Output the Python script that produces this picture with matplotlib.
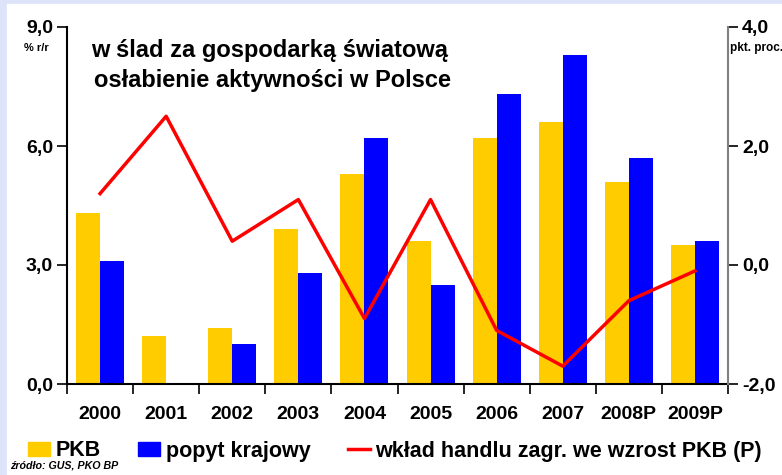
import matplotlib.pyplot as plt
import numpy as np
from matplotlib.patches import Patch, Rectangle
from matplotlib.lines import Line2D

plt.rcParams['font.family'] = ['Liberation Sans', 'DejaVu Sans']

years = ["2000", "2001", "2002", "2003", "2004", "2005", "2006", "2007", "2008P", "2009P"]
pkb = [4.3, 1.2, 1.4, 3.9, 5.3, 3.6, 6.2, 6.6, 5.1, 3.5]
popyt = [3.1, np.nan, 1.0, 2.8, 6.2, 2.5, 7.3, 8.3, 5.7, 3.6]
handel = [1.2, 2.5, 0.4, 1.1, -0.9, 1.1, -1.1, -1.7, -0.6, -0.1]

yellow = "#ffcc00"
blue = "#0000ff"
red = "#ff0000"

fig = plt.figure(figsize=(7.82, 4.75), dpi=100)
fig.patches.append(Rectangle((0, 0), 1, 1, transform=fig.transFigure,
                             color="#dde3f8", zorder=-10))
fig.patches.append(Rectangle((7 / 782, 0), 1, 1 - 4 / 475, transform=fig.transFigure,
                             color="white", zorder=-9))

ax = fig.add_axes([67 / 782, 1 - 384 / 475, (728 - 67) / 782, (384 - 27) / 475])
ax.set_facecolor("none")
x = np.arange(len(years))
w = 0.363
ax.bar(x - w / 2, pkb, w, color=yellow, zorder=2)
ax.bar(x + w / 2, popyt, w, color=blue, zorder=2)
ax.set_xlim(-0.5, len(years) - 0.5)
ax.set_ylim(0, 9)
ax.set_yticks([0, 3, 6, 9])
ax.set_yticklabels(["0,0", "3,0", "6,0", "9,0"], fontsize=14, fontweight="bold")
ax.set_xticks(np.arange(-0.5, len(years), 1.0))
ax.set_xticklabels([])
ax.set_xticks(x, minor=True)
ax.set_xticklabels(years, minor=True, fontsize=14, fontweight="bold")
ax.tick_params(axis="x", which="minor", length=0, pad=16)
ax.tick_params(axis="x", which="major", length=7, width=1.2, direction="out")
ax.tick_params(axis="y", length=7, width=1.2, pad=3)
ax.spines["top"].set_visible(False)
ax.spines["left"].set_linewidth(1.5)
ax.spines["bottom"].set_linewidth(1.5)
ax.spines["right"].set_visible(False)

ax2 = ax.twinx()
ax2.plot(x, handel, color=red, lw=2.5, zorder=3)
ax2.set_ylim(-2, 4)
ax2.set_yticks([-2, 0, 2, 4])
ax2.set_yticklabels(["-2,0", "0,0", "2,0", "4,0"], fontsize=14, fontweight="bold")
ax2.tick_params(axis="y", length=7, width=1.2, pad=3)
for s in ["top", "left", "bottom"]:
    ax2.spines[s].set_visible(False)
ax2.spines["right"].set_color("#808080")
ax2.spines["right"].set_linewidth(1.5)

fig.text(36 / 782, 1 - 48 / 475, "% r/r", fontsize=8, fontweight="bold",
         ha="center", va="center")
fig.text(730 / 782, 1 - 48 / 475, "pkt. proc.", fontsize=8.5, fontweight="bold",
         ha="left", va="center")
fig.text(270 / 782, 1 - 50 / 475, "w ślad za gospodarką światową", fontsize=17,
         fontweight="bold", ha="center", va="center")
fig.text(272 / 782, 1 - 80 / 475, "osłabienie aktywności w Polsce", fontsize=17,
         fontweight="bold", ha="center", va="center")
fig.text(10 / 782, 1 - 466 / 475, "źródło: GUS, PKO BP", fontsize=7.7, fontweight="bold",
         fontstyle="italic", ha="left", va="center")

handles = [Patch(color=yellow), Patch(color=blue), Line2D([], [], color=red, lw=2.5)]
labels = ["PKB", "popyt krajowy", "wkład handlu zagr. we wzrost PKB (P)"]
fig.legend(handles, labels, loc="center left", bbox_to_anchor=(28 / 782, 1 - 451 / 475),
           ncol=3, frameon=False, prop={"size": 15.5, "weight": "bold"},
           handlelength=1.02, handleheight=0.62, handletextpad=0.25, columnspacing=1.75,
           borderpad=0, borderaxespad=0)

fig.savefig("out.png", dpi=100)
